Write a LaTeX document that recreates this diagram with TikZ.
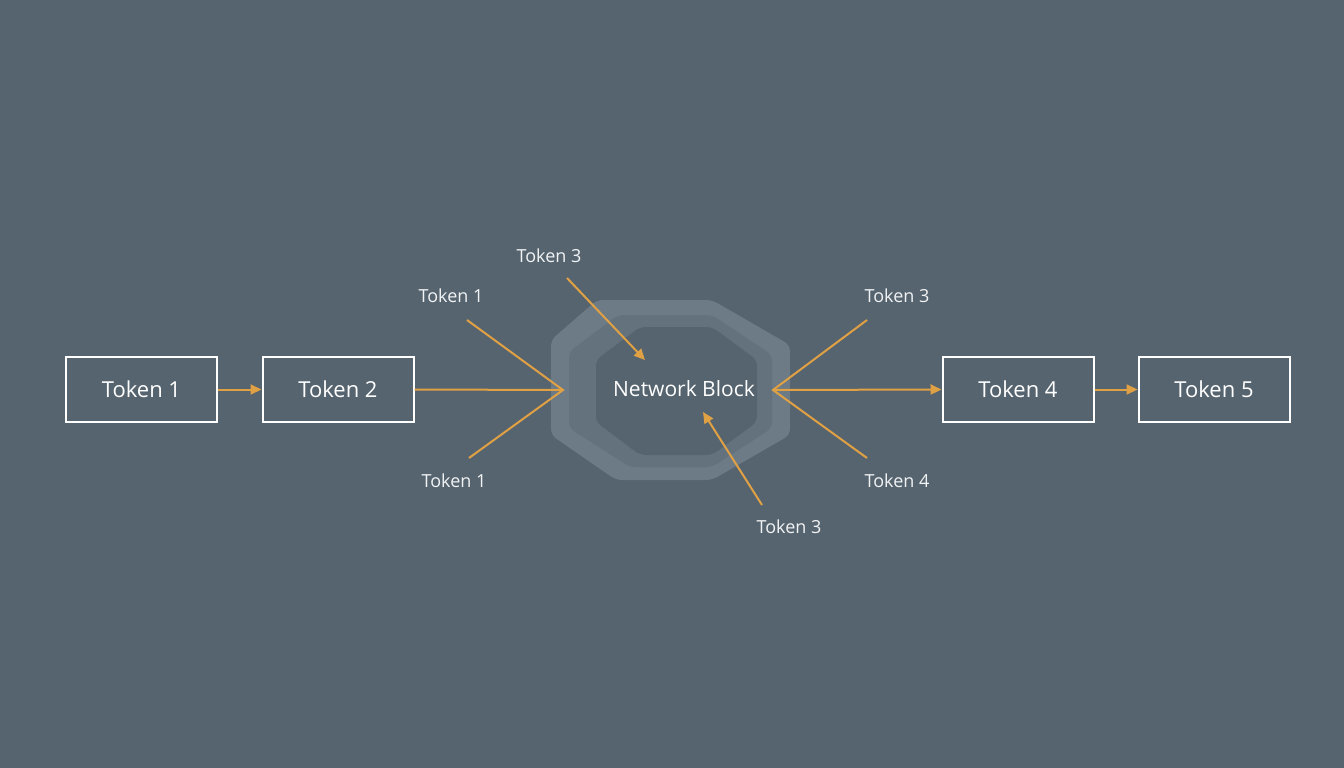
\documentclass[tikz,border=0pt]{standalone}
\usepackage{fontspec}
\setmainfont{Open Sans}
\usetikzlibrary{arrows.meta}
\definecolor{bg}{HTML}{56646F}
\definecolor{org}{HTML}{E0A044}
\definecolor{ring1}{HTML}{6C7B86}
\definecolor{ring2}{HTML}{63727D}
\begin{document}
\begin{tikzpicture}[x=1pt,y=-1pt,
  box/.style={draw=white,line width=2pt,minimum width=151pt,minimum height=65pt,text=white,font=\fontsize{22}{26}\selectfont},
  lbl/.style={text=white!92!bg,font=\fontsize{18}{22}\selectfont},
  ar/.style={draw=org,line width=2pt,-{Triangle[length=11pt,width=10pt]}},
  ln/.style={draw=org,line width=2pt}]
\fill[bg] (0,0) rectangle (1344,768);
\useasboundingbox (0,0) rectangle (1344,768);
% octagon layers
\fill[ring1,rounded corners=6pt] (597,300)--(712,300)--(790,345)--(790,435)--(712,480)--(616,480)--(551,435)--(551,340)--cycle;
\fill[ring2,rounded corners=6pt] (618,315)--(712,315)--(772,355)--(772,428)--(712,467)--(630,467)--(569,428)--(569,352)--cycle;
\fill[bg,rounded corners=6pt] (640,327)--(712,327)--(757,360)--(757,422)--(712,455)--(640,455)--(596,422)--(596,360)--cycle;
\node[box] (t1) at (141.5,389.5) {Token 1};
\node[box] (t2) at (338,389.5) {Token 2};
\node[box] (t4) at (1018,389.5) {Token 4};
\node[box] (t5) at (1214,389.5) {Token 5};
\node[text=white,font=\fontsize{21}{25}\selectfont] (nb) at (684,389) {Network Block};
\coordinate (cl) at (563,390);
\coordinate (cr) at (773,390);
\node[lbl] (l1a) at (451,296) {Token 1};
\node[lbl] (l1b) at (454,481) {Token 1};
\node[lbl] (l3a) at (549,256) {Token 3};
\node[lbl] (l3b) at (897,296) {Token 3};
\node[lbl] (l4) at (897,481) {Token 4};
\node[lbl] (l3c) at (789,527) {Token 3};
\coordinate (a1) at (467,320);
\coordinate (a2) at (469,458);
\coordinate (b1) at (867,320);
\coordinate (b2) at (867,458);
\coordinate (s3) at (567,278);
\coordinate (e3) at (645,360);
\coordinate (s4) at (762,505);
\coordinate (e4) at (703,412);
\draw[ar] (t1) -- (t2);
\draw[ar] (t4) -- (t5);
\draw[ln] (t2.east) -- (cl);
\draw[ln] (a1) -- (cl) -- (a2);
\draw[ln] (b1) -- (cr) -- (b2);
\draw[ar] (cr) -- (t4.west);
\draw[ar] (s3) -- (e3);
\draw[ar] (s4) -- (e4);
\end{tikzpicture}
\end{document}
